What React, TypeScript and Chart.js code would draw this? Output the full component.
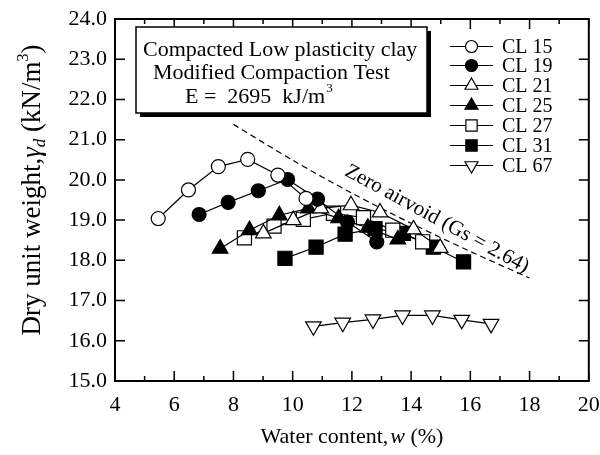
import React, { useEffect, useRef } from "react";
import { Chart, registerables } from "chart.js";

Chart.register(...registerables);

const FONT = "'Liberation Serif', 'Times New Roman', serif";

const xTickValues = [4, 6, 8, 10, 12, 14, 16, 18, 20];
const yTickValues = [15, 16, 17, 18, 19, 20, 21, 22, 23, 24];

const seriesNames = ["CL 15", "CL 19", "CL 21", "CL 25", "CL 27", "CL 31", "CL 67"];

const cl15W = [5.46, 6.48, 7.49, 8.48, 9.5, 10.45];
const cl15G = [19.04, 19.75, 20.33, 20.51, 20.12, 19.54];

const cl19W = [6.84, 7.82, 8.84, 9.83, 10.84, 11.85, 12.84];
const cl19G = [19.14, 19.44, 19.73, 20.01, 19.52, 18.95, 18.46];

const cl21W = [9.01, 10.02, 10.95, 11.97, 12.95, 14.08, 14.98];
const cl21G = [18.67, 19.0, 19.29, 19.37, 19.19, 18.77, 18.31];

const cl25W = [7.55, 8.54, 9.55, 10.53, 11.55, 12.54, 13.55];
const cl25G = [18.29, 18.75, 19.12, 19.29, 19.05, 18.81, 18.52];

const cl27W = [8.37, 9.37, 10.36, 11.38, 12.39, 13.38, 14.39];
const cl27G = [18.56, 18.85, 19.02, 19.17, 19.06, 18.75, 18.46];

const cl31W = [9.74, 10.79, 11.77, 12.78, 13.74, 14.75, 15.77];
const cl31G = [18.05, 18.33, 18.65, 18.79, 18.67, 18.33, 17.96];

const cl67W = [10.7, 11.69, 12.71, 13.71, 14.72, 15.71, 16.7];
const cl67G = [16.36, 16.45, 16.53, 16.63, 16.63, 16.52, 16.42];

const zavW = [8, 10, 12, 14, 16, 18];
const zavG = [21.38, 20.49, 19.67, 18.92, 18.22, 17.56];

const toPts = (w: number[], g: number[]) => w.map((x, i) => ({ x, y: g[i] }));

type MarkerSpec = { style: string; fill: string; radius: number; rotation: number };
const markers: MarkerSpec[] = [
  { style: "circle", fill: "#ffffff", radius: 7, rotation: 0 },
  { style: "circle", fill: "#000000", radius: 7, rotation: 0 },
  { style: "triangle", fill: "#ffffff", radius: 9, rotation: 0 },
  { style: "triangle", fill: "#000000", radius: 9, rotation: 0 },
  { style: "rect", fill: "#ffffff", radius: 10, rotation: 0 },
  { style: "rect", fill: "#000000", radius: 10, rotation: 0 },
  { style: "triangle", fill: "#ffffff", radius: 9, rotation: 180 },
];

function drawMarker(ctx: CanvasRenderingContext2D, m: MarkerSpec, x: number, y: number, r: number) {
  ctx.save();
  ctx.fillStyle = m.fill;
  ctx.strokeStyle = "#000";
  ctx.lineWidth = 1.2;
  ctx.beginPath();
  if (m.style === "circle") {
    ctx.arc(x, y, r, 0, Math.PI * 2);
  } else if (m.style === "rect") {
    const s = r * Math.SQRT1_2;
    ctx.rect(x - s, y - s, 2 * s, 2 * s);
  } else {
    let rad = (m.rotation * Math.PI) / 180;
    ctx.moveTo(x + Math.sin(rad) * r, y - Math.cos(rad) * r);
    rad += (2 * Math.PI) / 3;
    ctx.lineTo(x + Math.sin(rad) * r, y - Math.cos(rad) * r);
    rad += (2 * Math.PI) / 3;
    ctx.lineTo(x + Math.sin(rad) * r, y - Math.cos(rad) * r);
    ctx.closePath();
  }
  ctx.fill();
  ctx.stroke();
  ctx.restore();
}

const decorPlugin = {
  id: "decor",
  beforeDatasetsDraw(chart: any) {
    const { ctx, chartArea } = chart;
    const { left, right, top, bottom } = chartArea;
    const xs = chart.scales.x;
    const ys = chart.scales.y;
    ctx.save();
    ctx.strokeStyle = "#000";
    ctx.lineWidth = 1.5;
    for (let v = 4; v <= 20; v += 1) {
      const px = xs.getPixelForValue(v);
      const len = v % 2 === 0 ? 10 : 5;
      ctx.beginPath();
      ctx.moveTo(px, bottom);
      ctx.lineTo(px, bottom - len);
      ctx.moveTo(px, top);
      ctx.lineTo(px, top + len);
      ctx.stroke();
    }
    for (const v of yTickValues) {
      const py = ys.getPixelForValue(v);
      ctx.beginPath();
      ctx.moveTo(left, py);
      ctx.lineTo(left + 10, py);
      ctx.moveTo(right, py);
      ctx.lineTo(right - 10, py);
      ctx.stroke();
    }
    ctx.lineWidth = 2;
    ctx.strokeRect(left, top, right - left, bottom - top);
    ctx.restore();
  },
  afterDraw(chart: any) {
    const { ctx } = chart;
    ctx.save();
    const bx = 136, by = 27, bw = 291, bh = 86;
    ctx.fillStyle = "#000";
    ctx.fillRect(bx + 4, by + 4, bw, bh);
    ctx.fillStyle = "#fff";
    ctx.fillRect(bx, by, bw, bh);
    ctx.strokeStyle = "#000";
    ctx.lineWidth = 1.5;
    ctx.strokeRect(bx, by, bw, bh);
    ctx.fillStyle = "#000";
    ctx.font = `22px ${FONT}`;
    ctx.textBaseline = "alphabetic";
    ctx.textAlign = "left";
    ctx.fillText("Compacted Low plasticity clay", 143, 56);
    ctx.fillText("Modified Compaction Test", 153, 79);
    const e1 = "E =  2695  kJ/m";
    ctx.fillText(e1, 185, 103);
    const ew = ctx.measureText(e1).width;
    ctx.font = `13px ${FONT}`;
    ctx.fillText("3", 185 + ew + 1, 92);

    const rowY = [46.5, 65.5, 85.5, 105.5, 125.5, 145.5, 165.5];
    for (let i = 0; i < seriesNames.length; i++) {
      const y = rowY[i];
      ctx.strokeStyle = "#000";
      ctx.lineWidth = 1.2;
      ctx.beginPath();
      ctx.moveTo(450, y);
      ctx.lineTo(493, y);
      ctx.stroke();
      const m = markers[i];
      drawMarker(ctx, m, 471.5, y, m.style === "rect" ? 8 : m.style === "triangle" ? 7.5 : 6);
      ctx.fillStyle = "#000";
      ctx.font = `20px ${FONT}`;
      ctx.textAlign = "left";
      ctx.textBaseline = "middle";
      ctx.fillText(seriesNames[i], 502, y + 1);
    }

    ctx.save();
    ctx.translate(437, 219);
    ctx.rotate((28.5 * Math.PI) / 180);
    ctx.font = `21px ${FONT}`;
    ctx.textAlign = "center";
    ctx.textBaseline = "middle";
    ctx.fillStyle = "#000";
    ctx.fillText("Zero airvoid (Gs = 2.64)", 0, 0);
    ctx.restore();

    // X axis title
    ctx.textBaseline = "alphabetic";
    ctx.textAlign = "left";
    const p1 = "Water content,";
    const p2 = "w";
    const p3 = " (%)";
    const fx = 22;
    ctx.font = `${fx}px ${FONT}`;
    const w1 = ctx.measureText(p1).width;
    const w3 = ctx.measureText(p3).width;
    ctx.font = `italic ${fx}px ${FONT}`;
    const w2 = ctx.measureText(p2).width;
    const total = w1 + w2 + w3 + 2;
    let sx = 352 - total / 2;
    const base = 443;
    ctx.font = `${fx}px ${FONT}`;
    ctx.fillText(p1, sx, base);
    sx += w1 + 2;
    ctx.font = `italic ${fx}px ${FONT}`;
    ctx.fillText(p2, sx, base);
    sx += w2;
    ctx.font = `${fx}px ${FONT}`;
    ctx.fillText(p3, sx, base);

    // Y axis title
    ctx.save();
    ctx.translate(40, 190);
    ctx.rotate(-Math.PI / 2);
    const parts: { t: string; f: string; dy: number }[] = [
      { t: "Dry unit weight,", f: `27px ${FONT}`, dy: 0 },
      { t: "γ", f: `italic 27px ${FONT}`, dy: 0 },
      { t: "d", f: `italic 17px ${FONT}`, dy: 5 },
      { t: " (kN/m", f: `27px ${FONT}`, dy: 0 },
      { t: "3", f: `16px ${FONT}`, dy: -12 },
      { t: ")", f: `27px ${FONT}`, dy: 0 },
    ];
    let tw = 0;
    const widths: number[] = [];
    for (const p of parts) {
      ctx.font = p.f;
      const w = ctx.measureText(p.t).width;
      widths.push(w);
      tw += w;
    }
    let cx = -tw / 2;
    ctx.fillStyle = "#000";
    ctx.textAlign = "left";
    ctx.textBaseline = "alphabetic";
    parts.forEach((p, i) => {
      ctx.font = p.f;
      ctx.fillText(p.t, cx, p.dy);
      cx += widths[i];
    });
    ctx.restore();

    ctx.restore();
  },
};

export default function App() {
  const canvasRef = useRef<HTMLCanvasElement | null>(null);

  useEffect(() => {
    const canvas = canvasRef.current;
    if (!canvas) return;
    const seriesData = [
      toPts(cl15W, cl15G),
      toPts(cl19W, cl19G),
      toPts(cl21W, cl21G),
      toPts(cl25W, cl25G),
      toPts(cl27W, cl27G),
      toPts(cl31W, cl31G),
      toPts(cl67W, cl67G),
    ];
    const datasets: any[] = seriesData.map((d, i) => ({
      label: seriesNames[i],
      data: d,
      showLine: true,
      borderColor: "#000",
      borderWidth: 1.2,
      backgroundColor: markers[i].fill,
      pointStyle: markers[i].style,
      pointRotation: markers[i].rotation,
      pointRadius: markers[i].radius,
      pointBorderColor: "#000",
      pointBorderWidth: 1.2,
      pointBackgroundColor: markers[i].fill,
      tension: 0,
    }));
    datasets.push({
      label: "ZAV",
      data: toPts(zavW, zavG),
      showLine: true,
      borderColor: "#000",
      borderWidth: 1.2,
      borderDash: [6, 4],
      pointRadius: 0,
      tension: 0.3,
    });

    const chart = new Chart(canvas, {
      type: "scatter",
      data: { datasets },
      options: {
        animation: false,
        responsive: false,
        maintainAspectRatio: false,
        layout: { padding: { top: 19, right: 11, left: 0, bottom: 0 } },
        plugins: {
          legend: { display: false },
          tooltip: { enabled: false },
        },
        scales: {
          x: {
            type: "linear",
            min: 4,
            max: 20,
            afterBuildTicks: (scale: any) => {
              scale.ticks = xTickValues.map((v) => ({ value: v }));
            },
            ticks: {
              color: "#000",
              font: { family: FONT, size: 22 },
              padding: 11,
              maxRotation: 0,
              autoSkip: false,
            },
            grid: { display: false, drawTicks: false },
            border: { display: false },
            afterFit: (scale: any) => {
              scale.height = 74;
              scale.paddingLeft = 0;
              scale.paddingRight = 0;
            },
          },
          y: {
            type: "linear",
            min: 15,
            max: 24,
            afterBuildTicks: (scale: any) => {
              scale.ticks = yTickValues.map((v) => ({ value: v }));
            },
            ticks: {
              color: "#000",
              font: { family: FONT, size: 22 },
              padding: 8,
              autoSkip: false,
              callback: (v: any) => Number(v).toFixed(1),
            },
            grid: { display: false, drawTicks: false },
            border: { display: false },
            afterFit: (scale: any) => {
              scale.width = 115;
              scale.paddingTop = 0;
              scale.paddingBottom = 0;
            },
          },
        },
      },
      plugins: [decorPlugin],
    });
    return () => chart.destroy();
  }, []);

  return (
    <div style={{ position: "absolute", left: 0, top: 0, width: 600, height: 455, background: "#fff" }}>
      <canvas ref={canvasRef} width={600} height={455} style={{ display: "block" }} />
    </div>
  );
}
